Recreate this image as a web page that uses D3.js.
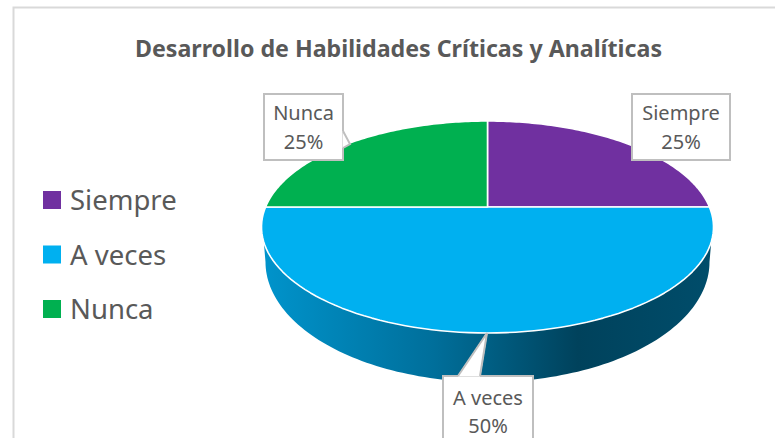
<!DOCTYPE html>
<html><head><meta charset="utf-8">
<script src="https://cdn.jsdelivr.net/npm/d3@7"></script>
<style>html,body{margin:0;padding:0;background:#fff;overflow:hidden}svg{display:block}text{font-family:"Noto Sans","Open Sans",sans-serif;fill:#595959}</style>
</head><body><svg id="c" width="775" height="438"></svg>
<script>
const chartTitle = "Desarrollo de Habilidades Críticas y Analíticas";
const categories = ["Siempre", "A veces", "Nunca"];
const values = [25, 50, 25];
const colors = ["#7030A0", "#00B0F0", "#00B050"];
const sideStops = [[0,"#0094cc"],[0.38,"#006f9b"],[0.5,"#005f84"],[0.7,"#00425c"],[1,"#004d6b"]];

const svg = d3.select("#c");
const apex = {x:487.5, y:207}, ell = {cx:487.5, cy:227, rx:226, ry:106};
const low = {cx:487.5, cy:262, rx:222, ry:120};
const total = d3.sum(values);
const pct = d3.format(".0%");
const pie = d3.pie().sort(null).value(d => d)(values);

svg.append("path").attr("d","M13.5,438V7.5H775").attr("fill","none").attr("stroke","#d9d9d9").attr("stroke-width",2);

svg.append("text").attr("x",398.5).attr("y",57).attr("text-anchor","middle")
  .attr("font-size",23.2).attr("font-weight",700).text(chartTitle);

function rim(a){
  const dx = Math.sin(a)*ell.rx, dy = -Math.cos(a)*ell.ry;
  const ox = (apex.x-ell.cx)/ell.rx, oy = (apex.y-ell.cy)/ell.ry;
  const ux = dx/ell.rx, uy = dy/ell.ry;
  const A = ux*ux+uy*uy, B = 2*(ox*ux+oy*uy), C = ox*ox+oy*oy-1;
  const t = (-B+Math.sqrt(B*B-4*A*C))/(2*A);
  return [apex.x+dx*t, apex.y+dy*t];
}
const line = d3.line();
function wedge(d){
  const pts = [[apex.x,apex.y]];
  const n = 90;
  for(let i=0;i<=n;i++) pts.push(rim(d.startAngle+(d.endAngle-d.startAngle)*i/n));
  return line(pts)+"Z";
}

const defs = svg.append("defs");
const grad = defs.append("linearGradient").attr("id","side").attr("gradientUnits","userSpaceOnUse")
  .attr("x1",ell.cx-ell.rx).attr("x2",ell.cx+ell.rx).attr("y1",0).attr("y2",0);
sideStops.forEach(s=>grad.append("stop").attr("offset",s[0]).attr("stop-color",s[1]));
const wall = [[ell.cx+ell.rx-1,ell.cy]];
for(let i=0;i<=120;i++){
  const a = Math.PI*i/120;
  wall.push([low.cx+low.rx*Math.cos(a), low.cy+low.ry*Math.sin(a)]);
}
wall.push([ell.cx-ell.rx+1,ell.cy]);
svg.append("path").attr("d",line(wall)+"Z").attr("fill","url(#side)");

svg.append("g").selectAll("path").data(pie).join("path")
  .attr("d",wedge).attr("fill",(d,i)=>colors[i])
  .attr("stroke","#fff").attr("stroke-width",1.6).attr("stroke-linejoin","round");

const calloutBoxes = [
  {x0:632,x1:730,y0:94,y1:160,t1:26,t2:55,ptr:null},
  {x0:443,x1:533,y0:376,y1:450,t1:29,t2:57,ptr:[[458,376],[487,333],[480,376]]},
  {x0:264,x1:343,y0:94,y1:160,t1:26,t2:55,ptr:[[343,131],[350,144],[343,148]]}
];
const labels = svg.append("g");
pie.forEach((d,i)=>{
  const b = calloutBoxes[i];
  labels.append("rect").attr("x",b.x0).attr("y",b.y0).attr("width",b.x1-b.x0).attr("height",b.y1-b.y0)
    .attr("fill","#fff").attr("stroke","#bfbfbf").attr("stroke-width",2);
  if(b.ptr){
    labels.append("path").attr("d",line(b.ptr)+"Z").attr("fill","#fff").attr("stroke","#fff").attr("stroke-width",1);
    labels.append("path").attr("d",line(b.ptr)).attr("fill","none").attr("stroke","#bfbfbf").attr("stroke-width",2);
  }
  const cx=(b.x0+b.x1)/2;
  labels.append("text").attr("x",cx).attr("y",b.y0+b.t1).attr("text-anchor","middle").attr("font-size",20).text(categories[i]);
  labels.append("text").attr("x",cx).attr("y",b.y0+b.t2).attr("text-anchor","middle").attr("font-size",20).text(pct(d.data/total));
});

const legY = d3.scalePoint().domain(categories).range([200,309]);
const leg = svg.append("g").selectAll("g").data(categories).join("g").attr("transform",d=>`translate(43,${legY(d)})`);
leg.append("rect").attr("x",0).attr("y",-9).attr("width",18).attr("height",18).attr("fill",(d,i)=>colors[i]);
leg.append("text").attr("x",27).attr("y",10).attr("font-size",27.5).text(d=>d);
</script></body></html>
